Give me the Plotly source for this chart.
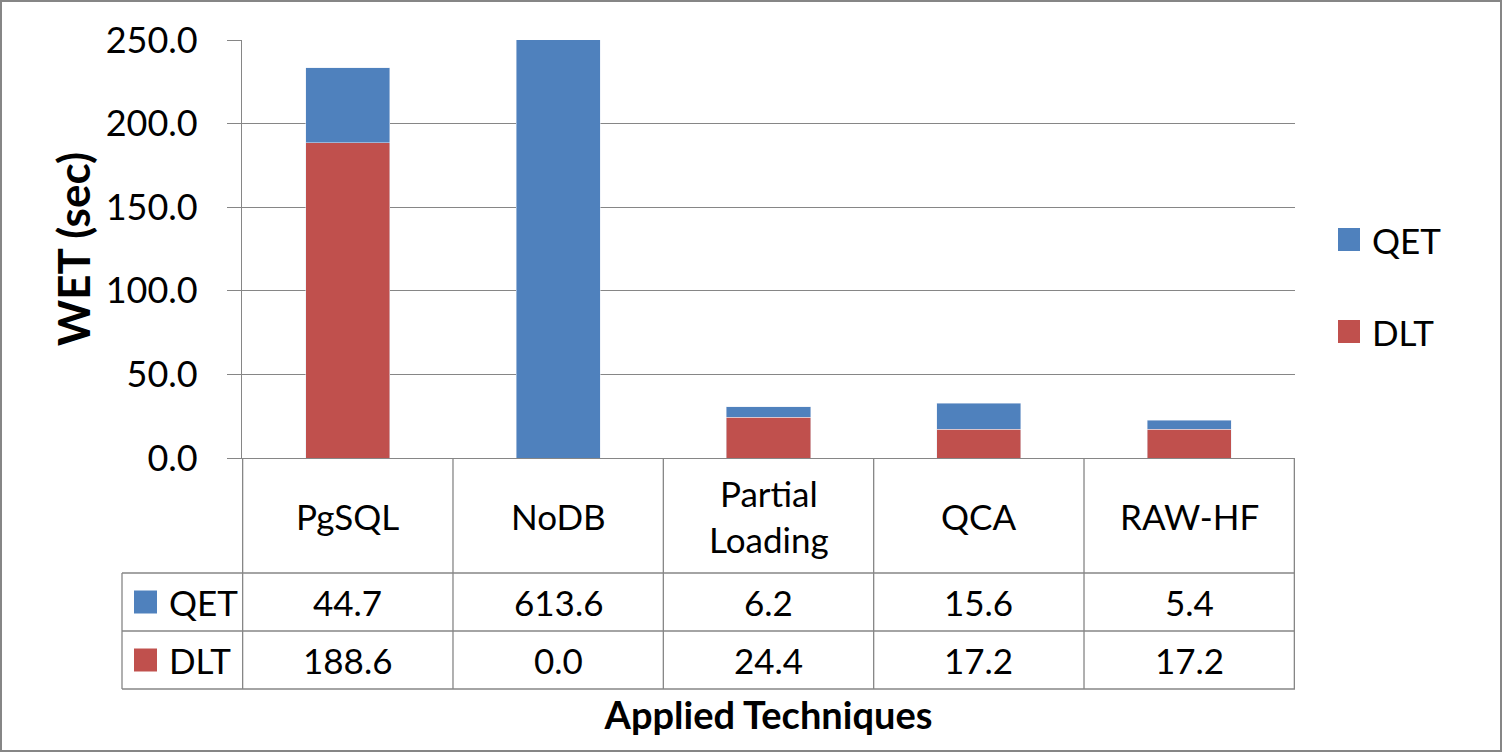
import plotly.graph_objects as go

# data
techniques = ["PgSQL", "NoDB", "Partial Loading", "QCA", "RAW-HF"]
tech_labels = ["PgSQL", "NoDB", "Partial<br>Loading", "QCA", "RAW-HF"]
qet = [44.7, 613.6, 6.2, 15.6, 5.4]
dlt = [188.6, 0.0, 24.4, 17.2, 17.2]
y_ticks = [0, 50, 100, 150, 200, 250]

BLUE = "#4F81BD"
RED = "#C0504D"
GRID = "#868686"
FONT = "Lato"

W, H = 1502, 752
L, R, T, B = 242, 1295, 40, 458   # plot area in pixels


def px(x):
    return (x - L) / (R - L)


def py(y):
    return (B - y) / (B - T)


fig = go.Figure()
fig.add_trace(go.Bar(x=techniques, y=dlt, name="DLT", marker_color=RED,
                     showlegend=False))
fig.add_trace(go.Bar(x=techniques, y=qet, name="QET", marker_color=BLUE,
                     showlegend=False))

shapes = []
annotations = []


def text(x, y, s, xref="paper", xanchor="center", size=35):
    annotations.append(dict(x=x, xref=xref, y=y, yref="paper", text=s,
                            showarrow=False, xanchor=xanchor, yanchor="middle",
                            font=dict(size=size, color="black")))


# data table under the plot
for yy in [573, 631, 689]:
    shapes.append(dict(type="line", xref="paper", yref="paper",
                       x0=px(122), x1=1, y0=py(yy), y1=py(yy),
                       line=dict(color=GRID, width=1.3)))
for i in range(len(techniques) + 1):
    shapes.append(dict(type="line", xref="x", yref="paper",
                       x0=i - 0.5, x1=i - 0.5, y0=0, y1=py(689),
                       line=dict(color=GRID, width=1.3)))
shapes.append(dict(type="line", xref="paper", yref="paper",
                   x0=px(122), x1=px(122), y0=py(573), y1=py(689),
                   line=dict(color=GRID, width=1.3)))

for name, lab in zip(techniques, tech_labels):
    text(name, py(515.5), lab, xref="x")

rows = [("QET", qet, BLUE, 602), ("DLT", dlt, RED, 660)]
for label, vals, col, yc in rows:
    for name, v in zip(techniques, vals):
        text(name, py(yc), f"{v:.1f}", xref="x")
    # row header key
    shapes.append(dict(type="rect", xref="paper", yref="paper",
                       x0=px(134), x1=px(157), y0=py(yc - 11.5), y1=py(yc + 11.5),
                       fillcolor=col, line=dict(width=0)))
    text(px(167), py(yc), label, xanchor="left")

# legend on the right
for label, col, yc in [("QET", BLUE, 239.5), ("DLT", RED, 331.5)]:
    shapes.append(dict(type="rect", xref="paper", yref="paper",
                       x0=px(1338), x1=px(1360), y0=py(yc - 11.5), y1=py(yc + 11.5),
                       fillcolor=col, line=dict(width=0)))
    text(px(1370), py(yc), label, xanchor="left")

# outer frame
shapes.append(dict(type="rect", xref="paper", yref="paper",
                   x0=px(1), x1=px(W - 1), y0=py(1), y1=py(H - 1),
                   line=dict(color=GRID, width=2)))

fig.update_layout(
    width=W, height=H,
    margin=dict(l=L, r=W - R, t=T, b=H - B, pad=0),
    barmode="stack", bargap=0.6,
    plot_bgcolor="white", paper_bgcolor="white",
    font=dict(family=FONT, size=35, color="black"),
    shapes=shapes, annotations=annotations,
    showlegend=False,
)
fig.update_xaxes(
    showticklabels=False, showgrid=False, zeroline=False,
    showline=True, linecolor=GRID, linewidth=1.3,
    title=dict(text="<b>Applied Techniques</b>", standoff=244,
               font=dict(size=38)),
)
fig.update_yaxes(
    range=[0, 250], tickvals=y_ticks, tickformat=".1f",
    showgrid=True, gridcolor=GRID, gridwidth=1.3, zeroline=False,
    showline=True, linecolor=GRID, linewidth=1.3,
    ticks="outside", ticklen=14, tickcolor=GRID, tickwidth=1.3,
    ticklabelstandoff=22, tickfont=dict(size=36),
    title=dict(text="<b>WET (sec)</b>", standoff=1, font=dict(size=44)),
)

fig.write_html("out.html", config={"displayModeBar": False},
               post_script="document.body.style.margin='0';")
